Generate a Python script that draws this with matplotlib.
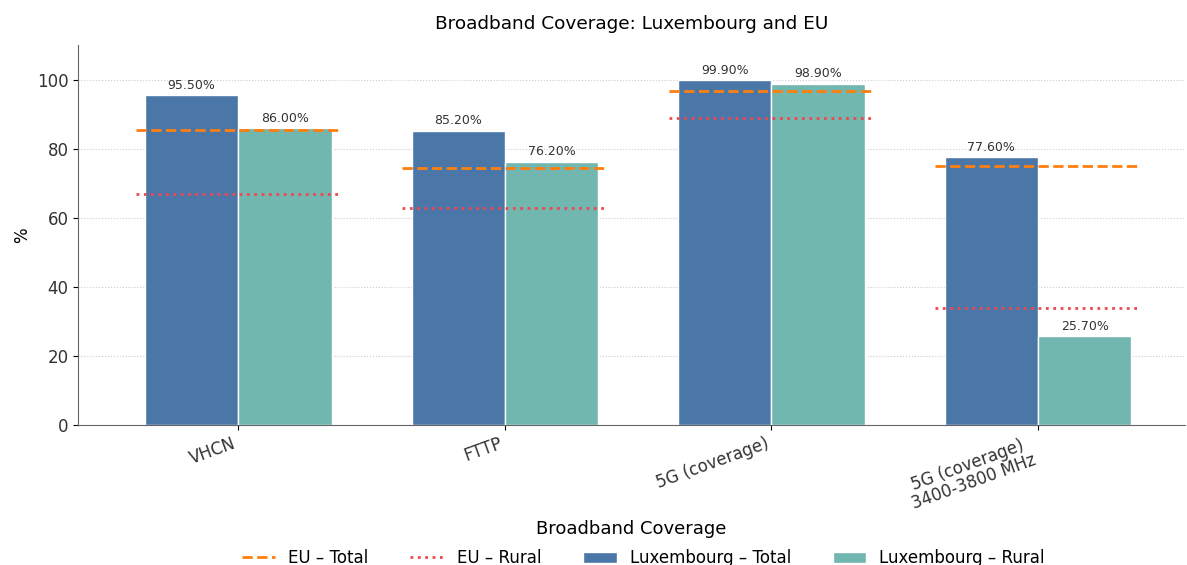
import matplotlib.pyplot as plt
import numpy as np

categories = ["VHCN", "FTTP", "5G (coverage)", "5G (coverage)\n3400-3800 MHz"]
lux_total = [95.5, 85.2, 99.9, 77.6]
lux_rural = [86.0, 76.2, 98.9, 25.7]
eu_total = [85.5, 74.3, 96.8, 74.9]
eu_rural = [66.8, 62.7, 89.0, 33.8]

fig = plt.figure(figsize=(11.87, 5.65), dpi=100)
ax = fig.add_axes([0.066, 0.248, 0.932, 0.672])

x = np.arange(len(categories))
w = 0.35
b1 = ax.bar(x - w / 2, lux_total, w, color="#4a76a8", edgecolor="white", linewidth=1,
            label="Luxembourg – Total", zorder=2)
b2 = ax.bar(x + w / 2, lux_rural, w, color="#72b6b0", edgecolor="white", linewidth=1,
            label="Luxembourg – Rural", zorder=2)

for i in range(len(categories)):
    ax.hlines(eu_total[i], i - 0.385, i + 0.385, colors="#ff7f0e", linestyles="--", linewidth=2, zorder=3,
              label="EU – Total" if i == 0 else None)
    ax.hlines(eu_rural[i], i - 0.385, i + 0.385, colors="#f0474f", linestyles=":", linewidth=2, zorder=3,
              label="EU – Rural" if i == 0 else None)

for bars in (b1, b2):
    for r in bars:
        ax.text(r.get_x() + r.get_width() / 2, r.get_height() + 1, f"{r.get_height():.2f}%",
                ha="center", va="bottom", fontsize=9, color="#333333")

ax.set_xlim(-0.6, 3.55)
ax.set_ylim(0, 110)
ax.set_xticks(x)
ax.set_xticklabels(categories, rotation=20, ha="right", fontsize=12, color="#333333",
                   multialignment="center", linespacing=1.0)
ax.tick_params(axis="y", labelsize=12, labelcolor="#333333")
ax.set_ylabel("%", fontsize=12)
ax.set_xlabel("Broadband Coverage", fontsize=13, labelpad=5)
ax.set_title("Broadband Coverage: Luxembourg and EU", fontsize=13.3, pad=12)
ax.yaxis.grid(True, linestyle=":", color="#cccccc", linewidth=0.8, zorder=0)
ax.set_axisbelow(True)
for s in ["top", "right"]:
    ax.spines[s].set_visible(False)
for s in ["left", "bottom"]:
    ax.spines[s].set_color("#666666")

handles, labels = ax.get_legend_handles_labels()
order = [labels.index(l) for l in ["EU – Total", "EU – Rural", "Luxembourg – Total", "Luxembourg – Rural"]]
fig.legend([handles[i] for i in order], [labels[i] for i in order], loc="center",
           bbox_to_anchor=(0.542, 0.012), ncol=4, frameon=False, fontsize=12, columnspacing=2.5)

fig.savefig("out.png", dpi=100)
